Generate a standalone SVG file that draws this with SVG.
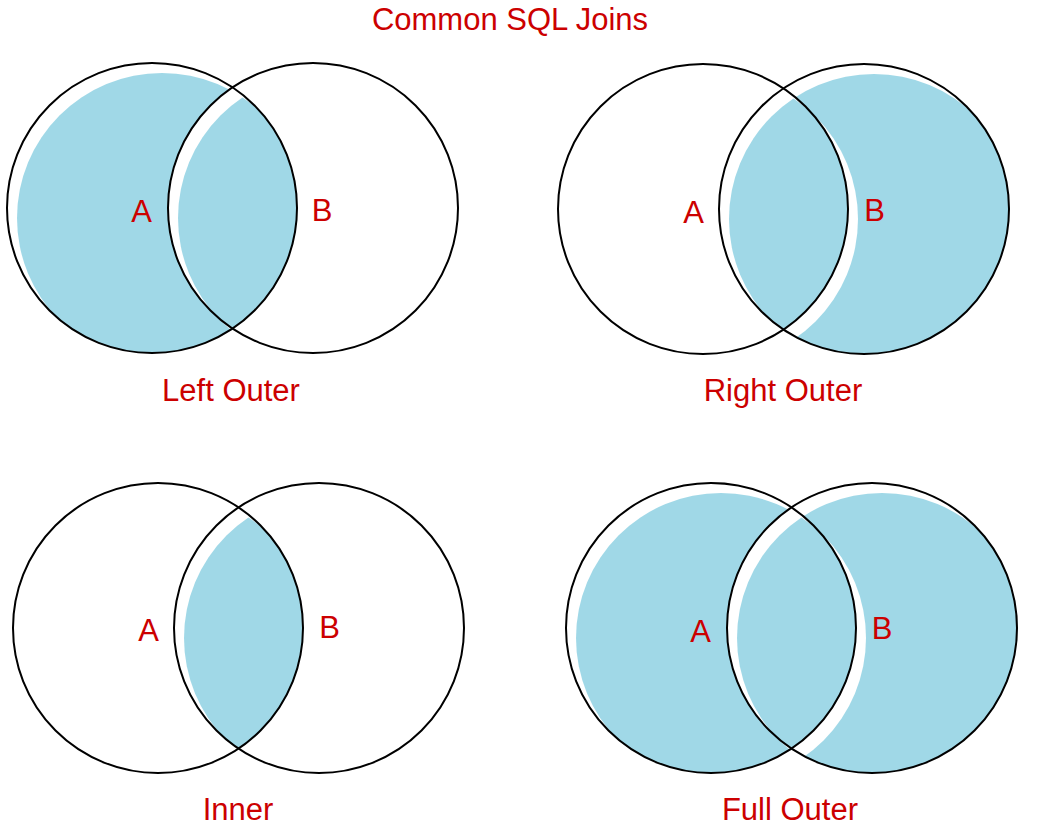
<svg xmlns="http://www.w3.org/2000/svg" width="1064" height="834" viewBox="0 0 1064 834">
<style>
.ring{fill:none;stroke:#000;stroke-width:2}
.lbl{font-family:"Liberation Sans",Arial,sans-serif;font-size:31px;fill:#CC0000;text-anchor:middle}
.fill{fill:#A0D8E7}
</style>
<defs>
<clipPath id="tl-cA"><circle cx="152" cy="208" r="145"/></clipPath>
<mask id="tl-AnB"><circle cx="152" cy="208" r="145" fill="#fff"/><circle cx="313" cy="208" r="145" fill="#000"/></mask>
<mask id="tl-I"><circle cx="313" cy="208" r="145" fill="#fff" clip-path="url(#tl-cA)"/></mask>
<clipPath id="tr-cA"><circle cx="703" cy="209" r="145"/></clipPath>
<mask id="tr-BnA"><circle cx="864" cy="209" r="145" fill="#fff"/><circle cx="703" cy="209" r="145" fill="#000"/></mask>
<mask id="tr-I"><circle cx="864" cy="209" r="145" fill="#fff" clip-path="url(#tr-cA)"/></mask>
<clipPath id="bl-cA"><circle cx="158" cy="628" r="145"/></clipPath>
<mask id="bl-I"><circle cx="319" cy="628" r="145" fill="#fff" clip-path="url(#bl-cA)"/></mask>
<clipPath id="br-cA"><circle cx="711" cy="628" r="145"/></clipPath>
<mask id="br-AnB"><circle cx="711" cy="628" r="145" fill="#fff"/><circle cx="872" cy="628" r="145" fill="#000"/></mask>
<mask id="br-BnA"><circle cx="872" cy="628" r="145" fill="#fff"/><circle cx="711" cy="628" r="145" fill="#000"/></mask>
<mask id="br-I"><circle cx="872" cy="628" r="145" fill="#fff" clip-path="url(#br-cA)"/></mask>
</defs>
<rect width="1064" height="834" fill="#fff"/>
<text id="title" class="lbl" x="510" y="30">Common SQL Joins</text>

<g id="left-outer">
<g mask="url(#tl-AnB)"><g transform="translate(10,10)"><rect class="fill" x="-20" y="-20" width="600" height="450" mask="url(#tl-AnB)"/></g></g>
<g mask="url(#tl-I)"><g transform="translate(10,10)"><rect class="fill" x="-20" y="-20" width="600" height="450" mask="url(#tl-I)"/></g></g>
<circle class="ring" cx="152" cy="208" r="145"/>
<circle class="ring" cx="313" cy="208" r="145"/>
<text class="lbl" x="141.5" y="222">A</text>
<text class="lbl" x="322" y="221">B</text>
<text class="lbl" x="231" y="401">Left Outer</text>
</g>

<g id="right-outer">
<g mask="url(#tr-BnA)"><g transform="translate(10,10)"><rect class="fill" x="520" y="-20" width="560" height="450" mask="url(#tr-BnA)"/></g></g>
<g mask="url(#tr-I)"><g transform="translate(10,10)"><rect class="fill" x="520" y="-20" width="560" height="450" mask="url(#tr-I)"/></g></g>
<circle class="ring" cx="703" cy="209" r="145"/>
<circle class="ring" cx="864" cy="209" r="145"/>
<text class="lbl" x="693.5" y="222.5">A</text>
<text class="lbl" x="874.5" y="220.5">B</text>
<text class="lbl" x="783" y="401">Right Outer</text>
</g>

<g id="inner">
<g mask="url(#bl-I)"><g transform="translate(10,10)"><rect class="fill" x="-20" y="430" width="600" height="420" mask="url(#bl-I)"/></g></g>
<circle class="ring" cx="158" cy="628" r="145"/>
<circle class="ring" cx="319" cy="628" r="145"/>
<text class="lbl" x="148.5" y="640.5">A</text>
<text class="lbl" x="329.5" y="638">B</text>
<text class="lbl" x="238" y="820">Inner</text>
</g>

<g id="full-outer">
<g mask="url(#br-AnB)"><g transform="translate(10,10)"><rect class="fill" x="520" y="430" width="560" height="420" mask="url(#br-AnB)"/></g></g>
<g mask="url(#br-I)"><g transform="translate(10,10)"><rect class="fill" x="520" y="430" width="560" height="420" mask="url(#br-I)"/></g></g>
<g mask="url(#br-BnA)"><g transform="translate(10,10)"><rect class="fill" x="520" y="430" width="560" height="420" mask="url(#br-BnA)"/></g></g>
<circle class="ring" cx="711" cy="628" r="145"/>
<circle class="ring" cx="872" cy="628" r="145"/>
<text class="lbl" x="700.5" y="641.5">A</text>
<text class="lbl" x="882" y="639">B</text>
<text class="lbl" x="790" y="820">Full Outer</text>
</g>
</svg>
